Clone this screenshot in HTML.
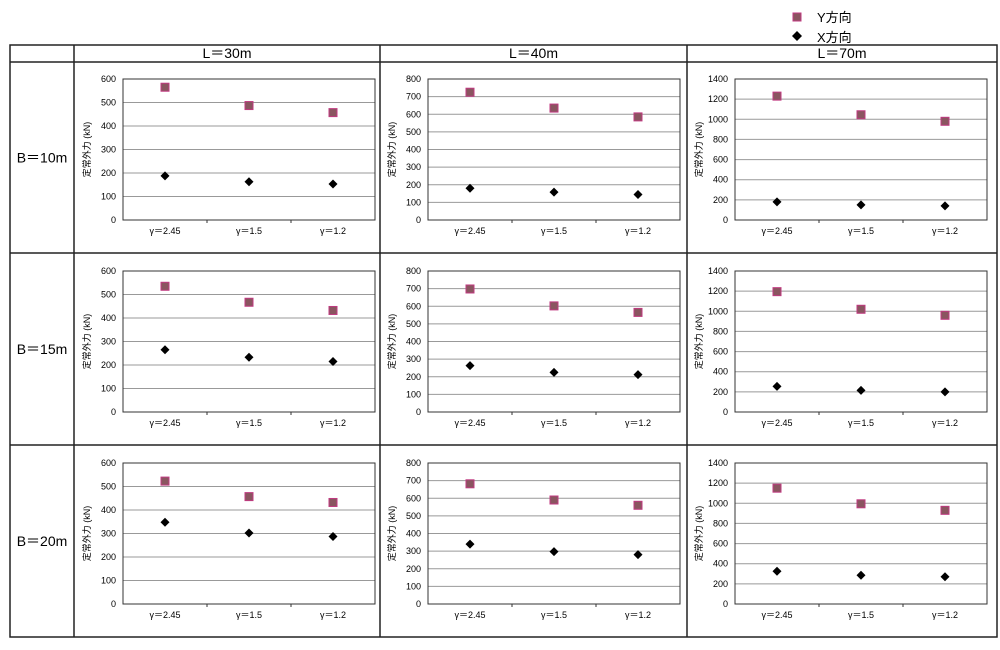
<!DOCTYPE html>
<html><head><meta charset="utf-8"><style>
body{margin:0;background:#fff;width:1000px;height:645px;overflow:hidden;font-family:"Liberation Sans","Noto Sans CJK JP",sans-serif}
svg text{font-family:"Liberation Sans","Noto Sans CJK JP",sans-serif}
</style></head><body>
<svg id="c" width="1000" height="645"></svg>
<script>
const colLabels=["L＝30m","L＝40m","L＝70m"];
const rowLabels=["B＝10m","B＝15m","B＝20m"];
const categories=["γ＝2.45","γ＝1.5","γ＝1.2"];
const yMaxByCol=[600,800,1400];
const yStepByCol=[100,100,200];
const ySeries=[[565,487,457],[725,635,585],[1230,1045,980],[535,467,432],[698,602,565],[1195,1020,960],[523,457,432],[682,590,560],[1150,995,930]];
const xSeries=[[188,163,153],[180,158,145],[180,150,140],[265,233,215],[263,225,212],[255,215,200],[348,302,287],[340,297,280],[325,285,270]];
const svg=document.getElementById('c');const NS='http://www.w3.org/2000/svg';
function mk(t,a,p){const e=document.createElementNS(NS,t);for(const k in a)e.setAttribute(k,a[k]);(p||svg).appendChild(e);return e;}
// table
const colX=[10,74,380,687,997],rowY=[45,62,253,445,637];
mk('rect',{x:10,y:45,width:987,height:592,fill:'none',stroke:'#222','stroke-width':1.5});
colX.slice(1,4).forEach(x=>mk('line',{x1:x,y1:45,x2:x,y2:637,stroke:'#222','stroke-width':1.5}));
rowY.slice(1,4).forEach(y=>mk('line',{x1:10,y1:y,x2:997,y2:y,stroke:'#222','stroke-width':1.5}));
colLabels.forEach((s,i)=>{const t=mk('text',{x:(colX[i+1]+colX[i+2])/2,y:58,'text-anchor':'middle','font-size':14});t.textContent=s;
});
rowLabels.forEach((s,i)=>{const t=mk('text',{x:42,y:(rowY[i+1]+rowY[i+2])/2+5,'text-anchor':'middle','font-size':14});t.textContent=s;
});
// legend
const lg=mk('g',{});
mk('rect',{x:793,y:13,width:8,height:8,fill:'#8a5560',stroke:'#c03a80','stroke-width':1},lg);
mk('text',{x:817,y:22,'font-size':13},lg).textContent='Y方向';
mk('path',{d:'M797,31 L802,36 L797,41 L792,36Z',fill:'#000'},lg);
mk('text',{x:817,y:42,'font-size':13},lg).textContent='X方向';
const plotL=[123,428,735],plotT=[79,271,463],PW=252,PH=141;
for(let r=0;r<3;r++)for(let c=0;c<3;c++){
 const k=r*3+c,L=plotL[c],T=plotT[r],max=yMaxByCol[c],st=yStepByCol[c];
 const g=mk('g',{});
 const ys=v=>T+PH-v/max*PH, xs=i=>L+PW*(2*i+1)/6;
 for(let v=0;v<=max;v+=st){const y=ys(v);
  if(v>0)mk('line',{x1:L,y1:y,x2:L+PW,y2:y,stroke:'#999','stroke-width':1},g);
  const t=mk('text',{x:L-7,y:y+3,'text-anchor':'end','font-size':9},g);t.textContent=v;}
 mk('rect',{x:L,y:T,width:PW,height:PH,fill:'none',stroke:'#333','stroke-width':1},g);
 for(let i=1;i<3;i++)mk('line',{x1:L+PW*i/3,y1:T+PH,x2:L+PW*i/3,y2:T+PH+3,stroke:'#333'},g);
 categories.forEach((s,i)=>{const t=mk('text',{x:xs(i),y:T+PH+14,'text-anchor':'middle','font-size':9},g);t.textContent=s;});
 const cy=T+PH/2,ax=L-33;
 const tt=mk('text',{x:ax,y:cy,'text-anchor':'middle','font-size':9,transform:`rotate(-90 ${ax} ${cy})`},g);tt.textContent='定常外力 (kN)';
 ySeries[k].forEach((v,i)=>{const m=mk('rect',{x:xs(i)-4,y:ys(v)-4,width:8,height:8,fill:'#8a5560',stroke:'#c03a80','stroke-width':1},g);
  });
 xSeries[k].forEach((v,i)=>{const x=xs(i),y=ys(v);const m=mk('path',{d:`M${x},${y-4.5}L${x+4.5},${y}L${x},${y+4.5}L${x-4.5},${y}Z`,fill:'#000'},g);
  });
}
</script>
</body></html>
